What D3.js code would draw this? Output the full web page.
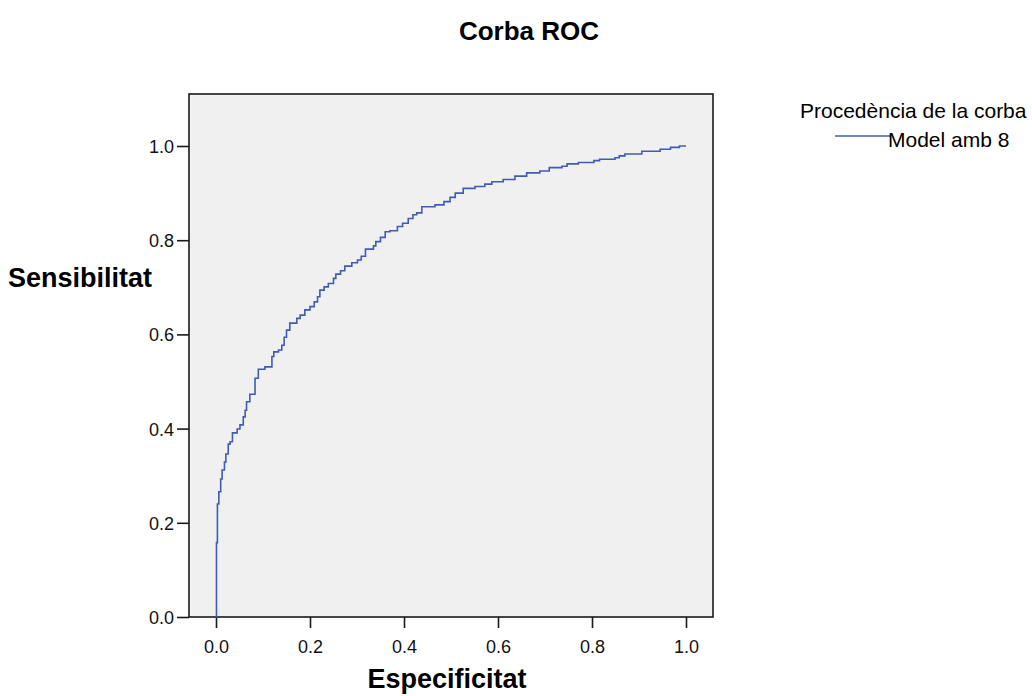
<!DOCTYPE html>
<html>
<head>
<meta charset="utf-8">
<script src="https://cdn.jsdelivr.net/npm/d3@7"></script>
<style>
  body { margin: 0; background: #fff; }
  svg { font-family: "Liberation Sans", Arial, sans-serif; }
</style>
</head>
<body>
<svg id="chart" width="1032" height="696"></svg>
<script>
// ROC curve vertices (1 - specificity, sensitivity)
var fpr = [0, 0.001, 0.003, 0.006, 0.010, 0.013, 0.018, 0.021, 0.026, 0.030, 0.035,
  0.045, 0.051, 0.058, 0.062, 0.065, 0.072, 0.083, 0.090, 0.104, 0.119, 0.123,
  0.133, 0.140, 0.145, 0.150, 0.157, 0.172, 0.179, 0.189, 0.200, 0.209, 0.216,
  0.221, 0.230, 0.239, 0.250, 0.255, 0.265, 0.274, 0.289, 0.301, 0.309, 0.318,
  0.335, 0.340, 0.350, 0.360, 0.370, 0.386, 0.397, 0.409, 0.419, 0.427, 0.438,
  0.466, 0.485, 0.498, 0.509, 0.526, 0.551, 0.572, 0.587, 0.611, 0.636, 0.661,
  0.689, 0.709, 0.736, 0.747, 0.771, 0.804, 0.816, 0.849, 0.858, 0.870, 0.906,
  0.945, 0.967, 0.986, 1.000];
var tpr = [0, 0.158, 0.240, 0.266, 0.293, 0.312, 0.329, 0.346, 0.367, 0.372, 0.391,
  0.399, 0.408, 0.425, 0.439, 0.457, 0.473, 0.507, 0.526, 0.531, 0.553, 0.563,
  0.567, 0.577, 0.594, 0.609, 0.624, 0.634, 0.641, 0.652, 0.659, 0.669, 0.680,
  0.694, 0.701, 0.708, 0.719, 0.728, 0.735, 0.745, 0.752, 0.758, 0.766, 0.781,
  0.788, 0.797, 0.806, 0.818, 0.820, 0.829, 0.836, 0.846, 0.854, 0.858, 0.871,
  0.875, 0.882, 0.891, 0.900, 0.910, 0.914, 0.919, 0.924, 0.929, 0.936, 0.943,
  0.947, 0.954, 0.957, 0.962, 0.965, 0.969, 0.972, 0.975, 0.979, 0.983, 0.989,
  0.993, 0.997, 1.000, 1.000];
var ticks = [0, 0.2, 0.4, 0.6, 0.8, 1.0];
var seriesName = "Model amb 8";

var svg = d3.select("#chart");
var lineColor = "#3f5cb5";

var x = d3.scaleLinear().domain([0, 1]).range([216, 686]);
var y = d3.scaleLinear().domain([0, 1]).range([617, 146]);

// plot frame
svg.append("rect")
  .attr("x", 189).attr("y", 94)
  .attr("width", 713 - 189).attr("height", 617 - 94)
  .attr("fill", "#f0f0f0")
  .attr("stroke", "#1a1a1a")
  .attr("stroke-width", 1.6);

// axes
var xAxis = svg.append("g")
  .attr("transform", "translate(0,617)")
  .call(d3.axisBottom(x).tickValues(ticks).tickFormat(d3.format(".1f")).tickSize(11).tickPadding(12));
var yAxis = svg.append("g")
  .attr("transform", "translate(189,0)")
  .call(d3.axisLeft(y).tickValues(ticks).tickFormat(d3.format(".1f")).tickSize(12).tickPadding(3));

[xAxis, yAxis].forEach(function(g) {
  g.select(".domain").remove();
  g.selectAll(".tick line").attr("stroke", "#1a1a1a").attr("stroke-width", 1.6);
  g.selectAll(".tick text")
    .attr("fill", "#111")
    .style("font-family", "'Liberation Sans', Arial, sans-serif")
    .style("font-size", "18px");
});
yAxis.selectAll(".tick text").attr("dy", "0.36em");

// curve
var pts = fpr.map(function(d, i) { return [d, tpr[i]]; });
svg.append("path")
  .datum(pts)
  .attr("fill", "none")
  .attr("stroke", lineColor)
  .attr("stroke-width", 1.6)
  .attr("d", d3.line()
    .x(function(d) { return x(d[0]); })
    .y(function(d) { return y(d[1]); })
    .curve(d3.curveStepAfter));

// titles
svg.append("text")
  .attr("x", 529).attr("y", 40)
  .attr("text-anchor", "middle")
  .style("font-weight", "bold").style("font-size", "26px")
  .text("Corba ROC");
svg.append("text")
  .attr("x", 8).attr("y", 287)
  .style("font-weight", "bold").style("font-size", "27px")
  .text("Sensibilitat");
svg.append("text")
  .attr("x", 447).attr("y", 688)
  .attr("text-anchor", "middle")
  .style("font-weight", "bold").style("font-size", "27px")
  .text("Especificitat");

// legend
svg.append("text")
  .attr("x", 800).attr("y", 118)
  .style("font-size", "21px")
  .text("Procedència de la corba");
svg.append("line")
  .attr("x1", 835).attr("x2", 890)
  .attr("y1", 136).attr("y2", 136)
  .attr("stroke", lineColor).attr("stroke-width", 1.6);
svg.append("text")
  .attr("x", 888).attr("y", 147)
  .style("font-size", "21px")
  .text(seriesName);
</script>
</body>
</html>
